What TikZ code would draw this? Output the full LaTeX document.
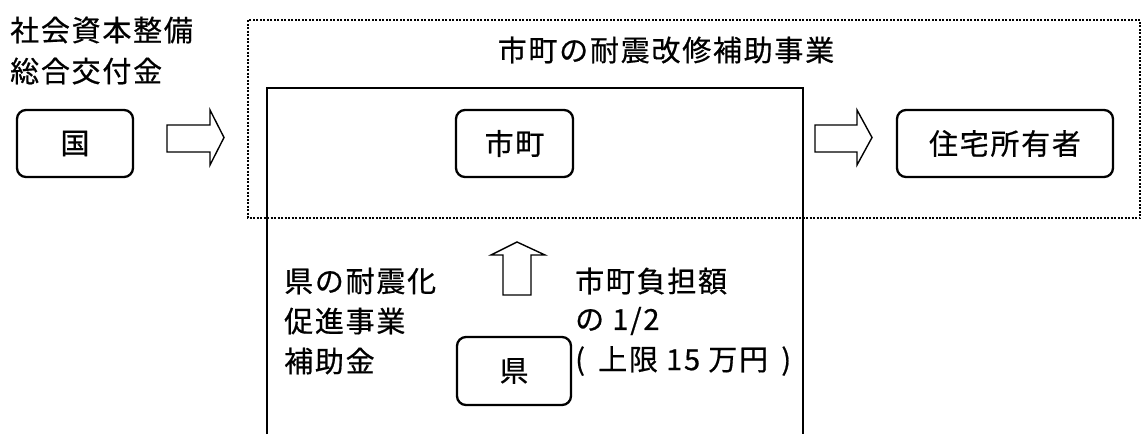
\documentclass[tikz,border=0pt]{standalone}
\usepackage{fontspec}
\setmainfont{Noto Sans CJK JP}[LetterSpace=6,FakeBold=0.6]
\begin{document}
\begin{tikzpicture}[x=1pt,y=-1pt,
  box/.style={draw,line width=2.3pt,rounded corners=9pt,inner sep=0pt,font=\fontsize{29}{32}\selectfont},
  txt/.style={inner sep=0pt,anchor=west,font=\fontsize{29}{32}\selectfont},
  harrow/.style={draw,line width=1.4pt,fill=white,line join=miter}]
\useasboundingbox (0,0) rectangle (1143,434);
% dotted frame
\draw[line width=2.6pt,dash pattern=on 2pt off 1.5pt] (248,20) rectangle (1140,218);
% solid open frame
\draw[line width=1.7pt] (267,434) -- (267,88) -- (803,88) -- (803,434);
% title
\node[inner sep=0pt,font=\fontsize{29}{32}\selectfont] (title) at (666,50) {市町の耐震改修補助事業};
% left labels
\node[txt] (kofu1) at (10,30) {社会資本整備};
\node[txt] (kofu2) at (10,71) {総合交付金};
% boxes
\node[box,minimum width=116pt,minimum height=67pt] (kuni) at (75,143.5) {国};
\node[box,minimum width=117pt,minimum height=67pt] (shicho) at (514.5,143.5) {市町};
\node[box,minimum width=216pt,minimum height=67pt] (jutaku) at (1005,143.5) {住宅所有者};
\node[box,minimum width=114pt,minimum height=68pt] (ken) at (514,371) {県};
% hollow arrows
\draw[harrow] (167,125) -- (210,125) -- (210,110) -- (224,137.5) -- (210,165) -- (210,152) -- (167,152) -- cycle;
\draw[harrow] (815,125) -- (857,125) -- (857,110) -- (872,137.5) -- (857,165) -- (857,152) -- (815,152) -- cycle;
\draw[harrow] (503,295) -- (503,255) -- (491,255) -- (517,242) -- (545,255) -- (531,255) -- (531,295) -- cycle;
% ken labels
\node[txt] (kenl1) at (284,281) {県の耐震化};
\node[txt] (kenl2) at (284,321) {促進事業};
\node[txt] (kenl3) at (284,361) {補助金};
\node[txt] (futan1) at (575,281) {市町負担額};
\node[txt] (futan2) at (575,321) {の 1/2};
\node[txt] (futan3) at (575,361) {(\hspace{5pt} 上限 15 万円\hspace{5pt} )};
\end{tikzpicture}
\end{document}
